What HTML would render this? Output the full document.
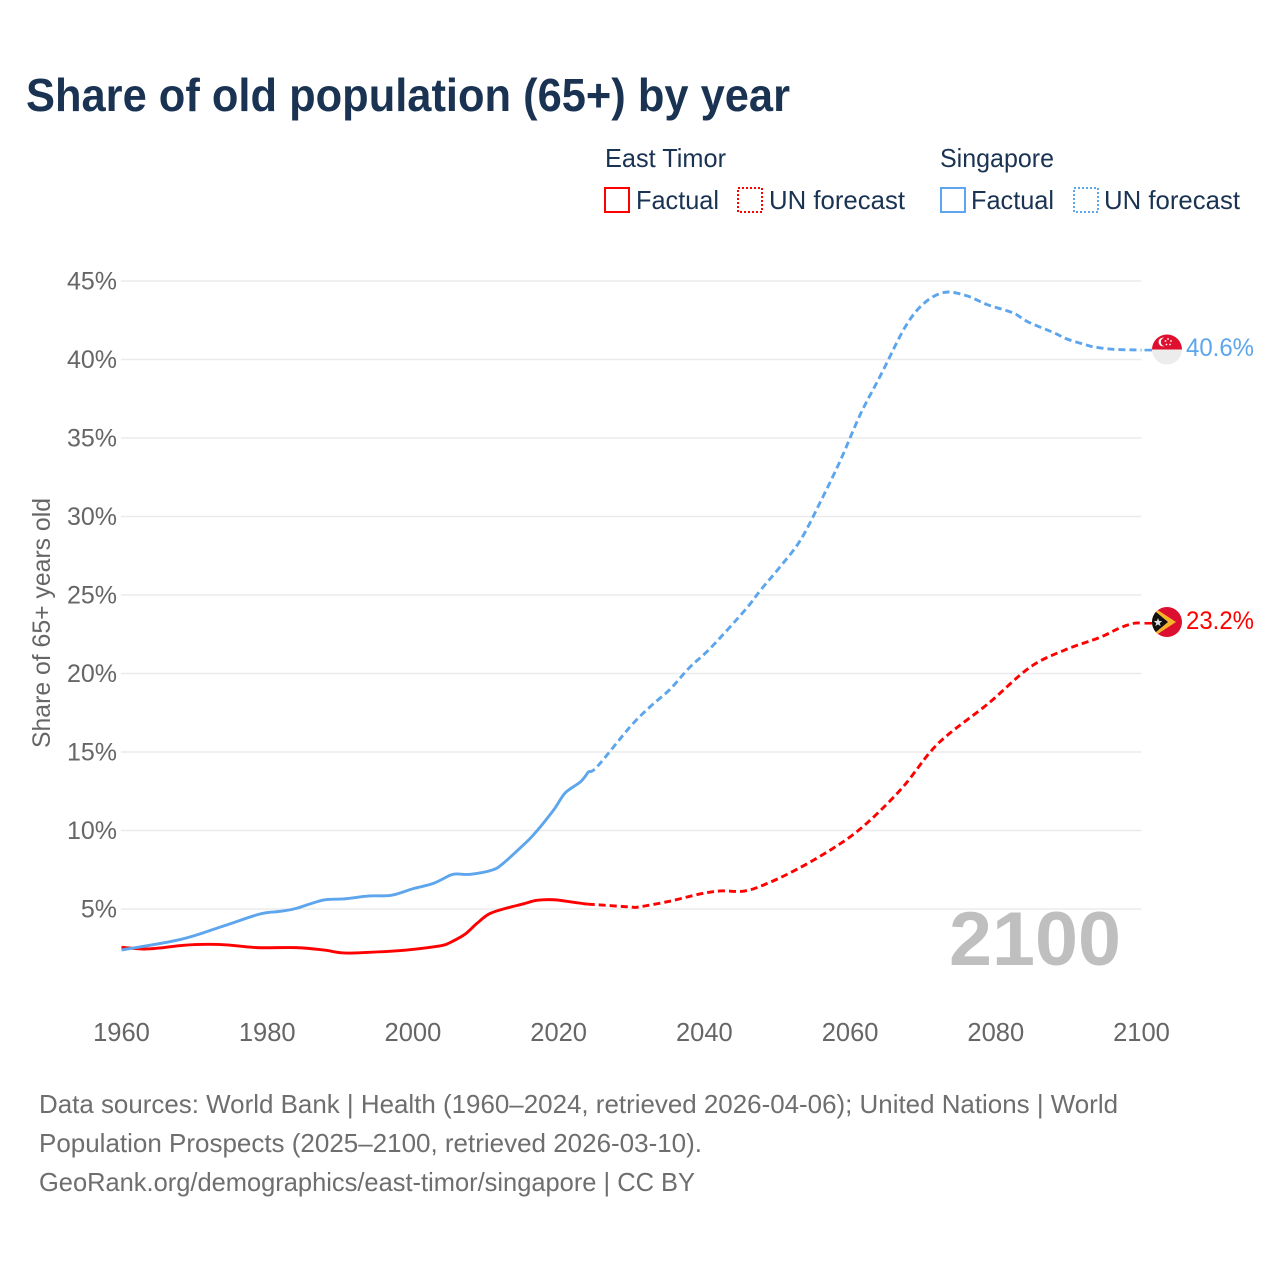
<!DOCTYPE html>
<html lang="en">
<head>
<meta charset="utf-8">
<title>Share of old population (65+) by year</title>
<style>
html,body{margin:0;padding:0;background:#fff;}
svg{display:block;font-family:"Liberation Sans",sans-serif;}
</style>
</head>
<body>
<svg id="chart" xmlns="http://www.w3.org/2000/svg" width="1280" height="1280" viewBox="0 0 1280 1280">
  <defs>
    <clipPath id="clip-sg"><circle cx="1167" cy="349.5" r="15"/></clipPath>
    <clipPath id="clip-tl"><circle cx="1167" cy="622" r="15"/></clipPath>
  </defs>
  <rect x="0" y="0" width="1280" height="1280" fill="#fff"/>
  <text x="26" y="111" font-size="46" font-weight="700" fill="#1a3353" textLength="764" lengthAdjust="spacingAndGlyphs">Share of old population (65+) by year</text>

  <g font-size="26" fill="#1a3353">
    <text x="605" y="167" textLength="121" lengthAdjust="spacingAndGlyphs">East Timor</text>
    <text x="940" y="167" textLength="114" lengthAdjust="spacingAndGlyphs">Singapore</text>
    <rect x="605" y="188" width="24" height="24" fill="none" stroke="#ff0000" stroke-width="2"/>
    <text x="636" y="209" textLength="83" lengthAdjust="spacingAndGlyphs">Factual</text>
    <rect x="738" y="188" width="24" height="24" fill="none" stroke="#ff0000" stroke-width="2" stroke-dasharray="2 2"/>
    <text x="769" y="209" textLength="136" lengthAdjust="spacingAndGlyphs">UN forecast</text>
    <rect x="941" y="188" width="24" height="24" fill="none" stroke="#5da5ec" stroke-width="2"/>
    <text x="971" y="209" textLength="83" lengthAdjust="spacingAndGlyphs">Factual</text>
    <rect x="1074" y="188" width="24" height="24" fill="none" stroke="#5da5ec" stroke-width="2" stroke-dasharray="2 2"/>
    <text x="1104" y="209" textLength="136" lengthAdjust="spacingAndGlyphs">UN forecast</text>
  </g>

  <g id="grid"></g>
  <g id="y-ticks"></g>
  <g id="x-ticks"></g>
  <text transform="translate(50 623) rotate(-90)" text-anchor="middle" font-size="25" fill="#666" textLength="250" lengthAdjust="spacingAndGlyphs">Share of 65+ years old</text>

  <text x="949" y="965" font-size="76" font-weight="700" fill="#bfbfbf" textLength="172" lengthAdjust="spacingAndGlyphs">2100</text>

  <g id="series"></g>

  <g clip-path="url(#clip-sg)">
    <rect x="1152" y="334" width="30" height="15.5" fill="#df0f30"/>
    <rect x="1152" y="349.5" width="30" height="15" fill="#ececec"/>
    <circle cx="1163" cy="342" r="4.4" fill="#fff"/>
    <circle cx="1165" cy="342" r="4.2" fill="#df0f30"/>
    <circle cx="1168" cy="339" r="0.9" fill="#fff"/>
    <circle cx="1171" cy="341" r="0.9" fill="#fff"/>
    <circle cx="1170" cy="344.5" r="0.9" fill="#fff"/>
    <circle cx="1166.5" cy="344.5" r="0.9" fill="#fff"/>
    <circle cx="1165.5" cy="341" r="0.9" fill="#fff"/>
  </g>
  <g clip-path="url(#clip-tl)">
    <rect x="1152" y="607" width="30" height="30" fill="#dc0f30"/>
    <polygon points="1150,605 1176,622 1150,639" fill="#f7b32b"/>
    <polygon points="1150,607 1168,622 1150,637" fill="#111"/>
    <polygon points="1158,618 1159.1,620.9 1162.2,621.1 1159.8,623.1 1160.6,626.1 1158,624.4 1155.4,626.1 1156.2,623.1 1153.8,621.1 1156.9,620.9" fill="#ddd"/>
  </g>
  <text id="label-sg" x="1186" y="356" font-size="25" fill="#5da5ec" textLength="68" lengthAdjust="spacingAndGlyphs"></text>
  <text id="label-tl" x="1186" y="629" font-size="25" fill="#ff0000" textLength="68" lengthAdjust="spacingAndGlyphs"></text>

  <g font-size="26" fill="#6e6e6e">
    <text x="39" y="1113" textLength="1079" lengthAdjust="spacingAndGlyphs">Data sources: World Bank | Health (1960–2024, retrieved 2026-04-06); United Nations | World</text>
    <text x="39" y="1152" textLength="663" lengthAdjust="spacingAndGlyphs">Population Prospects (2025–2100, retrieved 2026-03-10).</text>
    <text x="39" y="1191" textLength="656" lengthAdjust="spacingAndGlyphs">GeoRank.org/demographics/east-timor/singapore | CC BY</text>
  </g>
</svg>
<script>
const yTickValues = [5, 10, 15, 20, 25, 30, 35, 40, 45];
const xTickValues = [1960, 1980, 2000, 2020, 2040, 2060, 2080, 2100];

const timorFactualYears = [1960, 1963, 1965.3, 1968.5, 1971.8, 1974.5, 1978.6, 1984, 1987.7, 1990.5, 1994, 1998.7, 2003, 2004.4, 2005.6, 2007.2, 2008.8, 2010.4, 2012.4, 2015.2, 2017, 2019.3, 2021.6, 2023.4, 2024];
const timorFactualValues = [2.56, 2.45, 2.52, 2.69, 2.75, 2.71, 2.54, 2.54, 2.39, 2.2, 2.24, 2.37, 2.6, 2.72, 2.98, 3.41, 4.09, 4.67, 5.0, 5.33, 5.55, 5.59, 5.46, 5.34, 5.31];
const timorForecastYears = [2024, 2025.3, 2029.8, 2031, 2035.3, 2039.4, 2042.2, 2045.6, 2049, 2053, 2057.3, 2060.7, 2064, 2067.5, 2071, 2073.7, 2079, 2084.7, 2089.5, 2094.3, 2097, 2099, 2100];
const timorForecastValues = [5.31, 5.27, 5.13, 5.13, 5.5, 5.96, 6.15, 6.15, 6.7, 7.6, 8.76, 9.84, 11.2, 12.9, 15, 16.2, 18.1, 20.4, 21.5, 22.3, 22.9, 23.2, 23.2];

const singaporeFactualYears = [1960, 1968.2, 1974, 1979, 1981.8, 1984, 1987.7, 1990.5, 1994, 1997, 2000, 2002.8, 2005.1, 2006, 2007.9, 2010.9, 2012.4, 2014.7, 2016.5, 2019.3, 2020.9, 2023, 2024.1];
const singaporeFactualValues = [2.39, 3.07, 3.92, 4.68, 4.85, 5.04, 5.57, 5.64, 5.83, 5.87, 6.29, 6.63, 7.15, 7.23, 7.21, 7.48, 7.91, 8.88, 9.7, 11.3, 12.4, 13.1, 13.75];
const singaporeForecastYears = [2024.1, 2025.3, 2029.8, 2032.6, 2035.3, 2038, 2040.8, 2045.6, 2047.7, 2050.4, 2053.2, 2056, 2058.7, 2061.4, 2064.2, 2067.6, 2070.2, 2073, 2076, 2078.8, 2082.4, 2084.4, 2088, 2089.8, 2092.6, 2093.5, 2096.1, 2100];
const singaporeForecastValues = [13.75, 14.07, 16.6, 17.9, 19.0, 20.4, 21.6, 24.05, 25.3, 26.8, 28.5, 31, 33.6, 36.5, 39, 42.1, 43.6, 44.28, 44.06, 43.5, 42.96, 42.4, 41.7, 41.3, 40.9, 40.8, 40.65, 40.6];

const svgNS = 'http://www.w3.org/2000/svg';
function xScale(year) { return 121.5 + (year - 1960) * (1141.5 - 121.5) / 140; }
function yScale(value) { return 987.5 - value * 15.7; }

function make(tag, parent, attrs) {
  const el = document.createElementNS(svgNS, tag);
  for (const k in attrs) el.setAttribute(k, attrs[k]);
  parent.appendChild(el);
  return el;
}

function smoothPath(years, values) {
  const p = years.map(function (y, i) { return [xScale(y), yScale(values[i])]; });
  let d = 'M' + p[0][0].toFixed(2) + ' ' + p[0][1].toFixed(2);
  for (let i = 0; i < p.length - 1; i++) {
    const a = p[Math.max(i - 1, 0)], b = p[i], c = p[i + 1], e = p[Math.min(i + 2, p.length - 1)];
    const k = 1 / 6;
    d += ' C' + (b[0] + (c[0] - a[0]) * k).toFixed(2) + ' ' + (b[1] + (c[1] - a[1]) * k).toFixed(2) +
         ' ' + (c[0] - (e[0] - b[0]) * k).toFixed(2) + ' ' + (c[1] - (e[1] - b[1]) * k).toFixed(2) +
         ' ' + c[0].toFixed(2) + ' ' + c[1].toFixed(2);
  }
  return d;
}

const gridGroup = document.getElementById('grid');
const yGroup = document.getElementById('y-ticks');
const xGroup = document.getElementById('x-ticks');
const seriesGroup = document.getElementById('series');

yTickValues.forEach(function (v) {
  const line = make('line', gridGroup, { x1: 121, x2: 1141.5, y1: yScale(v), y2: yScale(v), stroke: '#ebebeb', 'stroke-width': 1.5 });
  
  
  const label = make('text', yGroup, { x: 117, y: yScale(v) + 8.5, 'text-anchor': 'end', 'font-size': 25, fill: '#666' });
  label.textContent = v + '%';
  
  
});

xTickValues.forEach(function (y) {
  const label = make('text', xGroup, { x: xScale(y), y: 1041, 'text-anchor': 'middle', 'font-size': 25.5, fill: '#666' });
  label.textContent = String(y);
  
  
});

function drawSeries(name, color, years, values, dashed) {
  const attrs = { d: smoothPath(years, values), fill: 'none', stroke: color, 'stroke-width': 2.9, 'stroke-linejoin': 'round' };
  if (dashed) attrs['stroke-dasharray'] = '7 4';
  const path = make('path', seriesGroup, attrs);
  
  
}

drawSeries('line-east-timor-factual', '#ff0000', timorFactualYears, timorFactualValues, false);
drawSeries('line-east-timor-forecast', '#ff0000', timorForecastYears, timorForecastValues, true);
drawSeries('line-singapore-factual', '#5da5ec', singaporeFactualYears, singaporeFactualValues, false);
drawSeries('line-singapore-forecast', '#5da5ec', singaporeForecastYears, singaporeForecastValues, true);

function drawConnector(name, color, lastValue) {
  const line = make('line', seriesGroup, { x1: xScale(2100) + 3, x2: 1152, y1: yScale(lastValue), y2: yScale(lastValue), stroke: color, 'stroke-width': 2.6 });
  
  
}
const lastTimor = timorForecastValues[timorForecastValues.length - 1];
const lastSingapore = singaporeForecastValues[singaporeForecastValues.length - 1];
drawConnector('connector-east-timor', '#ff0000', lastTimor);
drawConnector('connector-singapore', '#5da5ec', lastSingapore);
document.getElementById('label-tl').textContent = lastTimor.toFixed(1) + '%';
document.getElementById('label-sg').textContent = lastSingapore.toFixed(1) + '%';
</script>
</body>
</html>
